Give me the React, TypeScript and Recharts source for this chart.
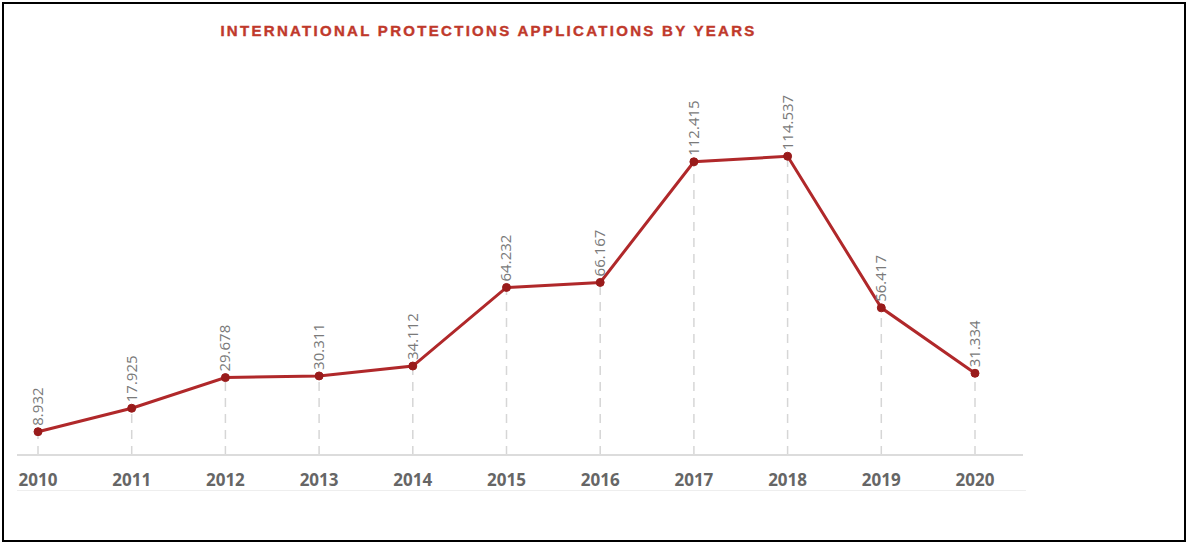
import { LineChart, Line, XAxis, YAxis, ReferenceLine, LabelList } from 'recharts'

// Başvuru sayıları — yıllara göre
const years = ['2010', '2011', '2012', '2013', '2014', '2015', '2016', '2017', '2018', '2019', '2020']
const applications = [8932, 17925, 29678, 30311, 34112, 64232, 66167, 112415, 114537, 56417, 31334]
const title = 'INTERNATIONAL PROTECTIONS APPLICATIONS BY YEARS'

const data = years.map((year, i) => ({ year, value: applications[i] }))

// 8932 -> "8.932"
const fmt = (n: number) => `${Math.floor(n / 1000)}.${String(n % 1000).padStart(3, '0')}`

// eslint-disable-next-line @typescript-eslint/no-explicit-any
function ValueLabel(props: any) {
  const { x, y, value } = props
  const tx = x + 5
  const ty = y - 6
  return (
    <text
      x={tx}
      y={ty}
      transform={`rotate(-90 ${tx} ${ty})`}
      textAnchor="start"
      fontSize={15}
      fontFamily="'Open Sans', sans-serif"
      fill="#7a7a7a"
    >
      {fmt(value)}
    </text>
  )
}

export default function App() {
  return (
    <div
      style={{
        position: 'absolute', left: 0, top: 0, width: 1191, height: 545,
        background: '#fff', overflow: 'hidden',
      }}
    >
      <div
        style={{
          position: 'absolute', left: 2, top: 2, width: 1184, height: 540,
          border: '2px solid #000', boxSizing: 'border-box', pointerEvents: 'none',
        }}
      />
      <div
        style={{
          position: 'absolute', left: 0, top: 22, width: 977, textAlign: 'center',
          fontFamily: "'Liberation Sans', Arial, sans-serif", fontWeight: 700,
          fontSize: 15, letterSpacing: 2.3, color: '#c0392b',
          WebkitTextStroke: '0.4px #c0392b',
        }}
      >
        {title}
      </div>
      <div
        style={{ position: 'absolute', left: 17, top: 490, width: 1009, height: 1, background: '#eeeeee' }}
      />
      <LineChart
        width={1191}
        height={545}
        data={data}
        margin={{ top: 142, right: 168, bottom: 60, left: 17 }}
      >
        <XAxis
          dataKey="year"
          scale="point"
          padding={{ left: 21, right: 48 }}
          axisLine={{ stroke: '#dcdcdc', strokeWidth: 2 }}
          tickLine={false}
          tickSize={0}
          tickMargin={19}
          height={30}
          tick={{ fontSize: 17, fontWeight: 700, fill: '#666', fontFamily: "'Open Sans', sans-serif" }}
        />
        <YAxis hide domain={[0, 120000]} />
        {data.map(d => (
          <ReferenceLine
            key={d.year}
            segment={[{ x: d.year, y: 0 }, { x: d.year, y: d.value }]}
            stroke="#d6d6d6"
            strokeWidth={1.5}
            strokeDasharray="9 7"
          />
        ))}
        <Line
          dataKey="value"
          stroke="#b0282a"
          strokeWidth={3}
          dot={{ r: 4, fill: '#991b1b', stroke: '#991b1b', strokeWidth: 1 }}
          activeDot={false}
          isAnimationActive={false}
        >
          <LabelList dataKey="value" content={ValueLabel} />
        </Line>
      </LineChart>
    </div>
  )
}
